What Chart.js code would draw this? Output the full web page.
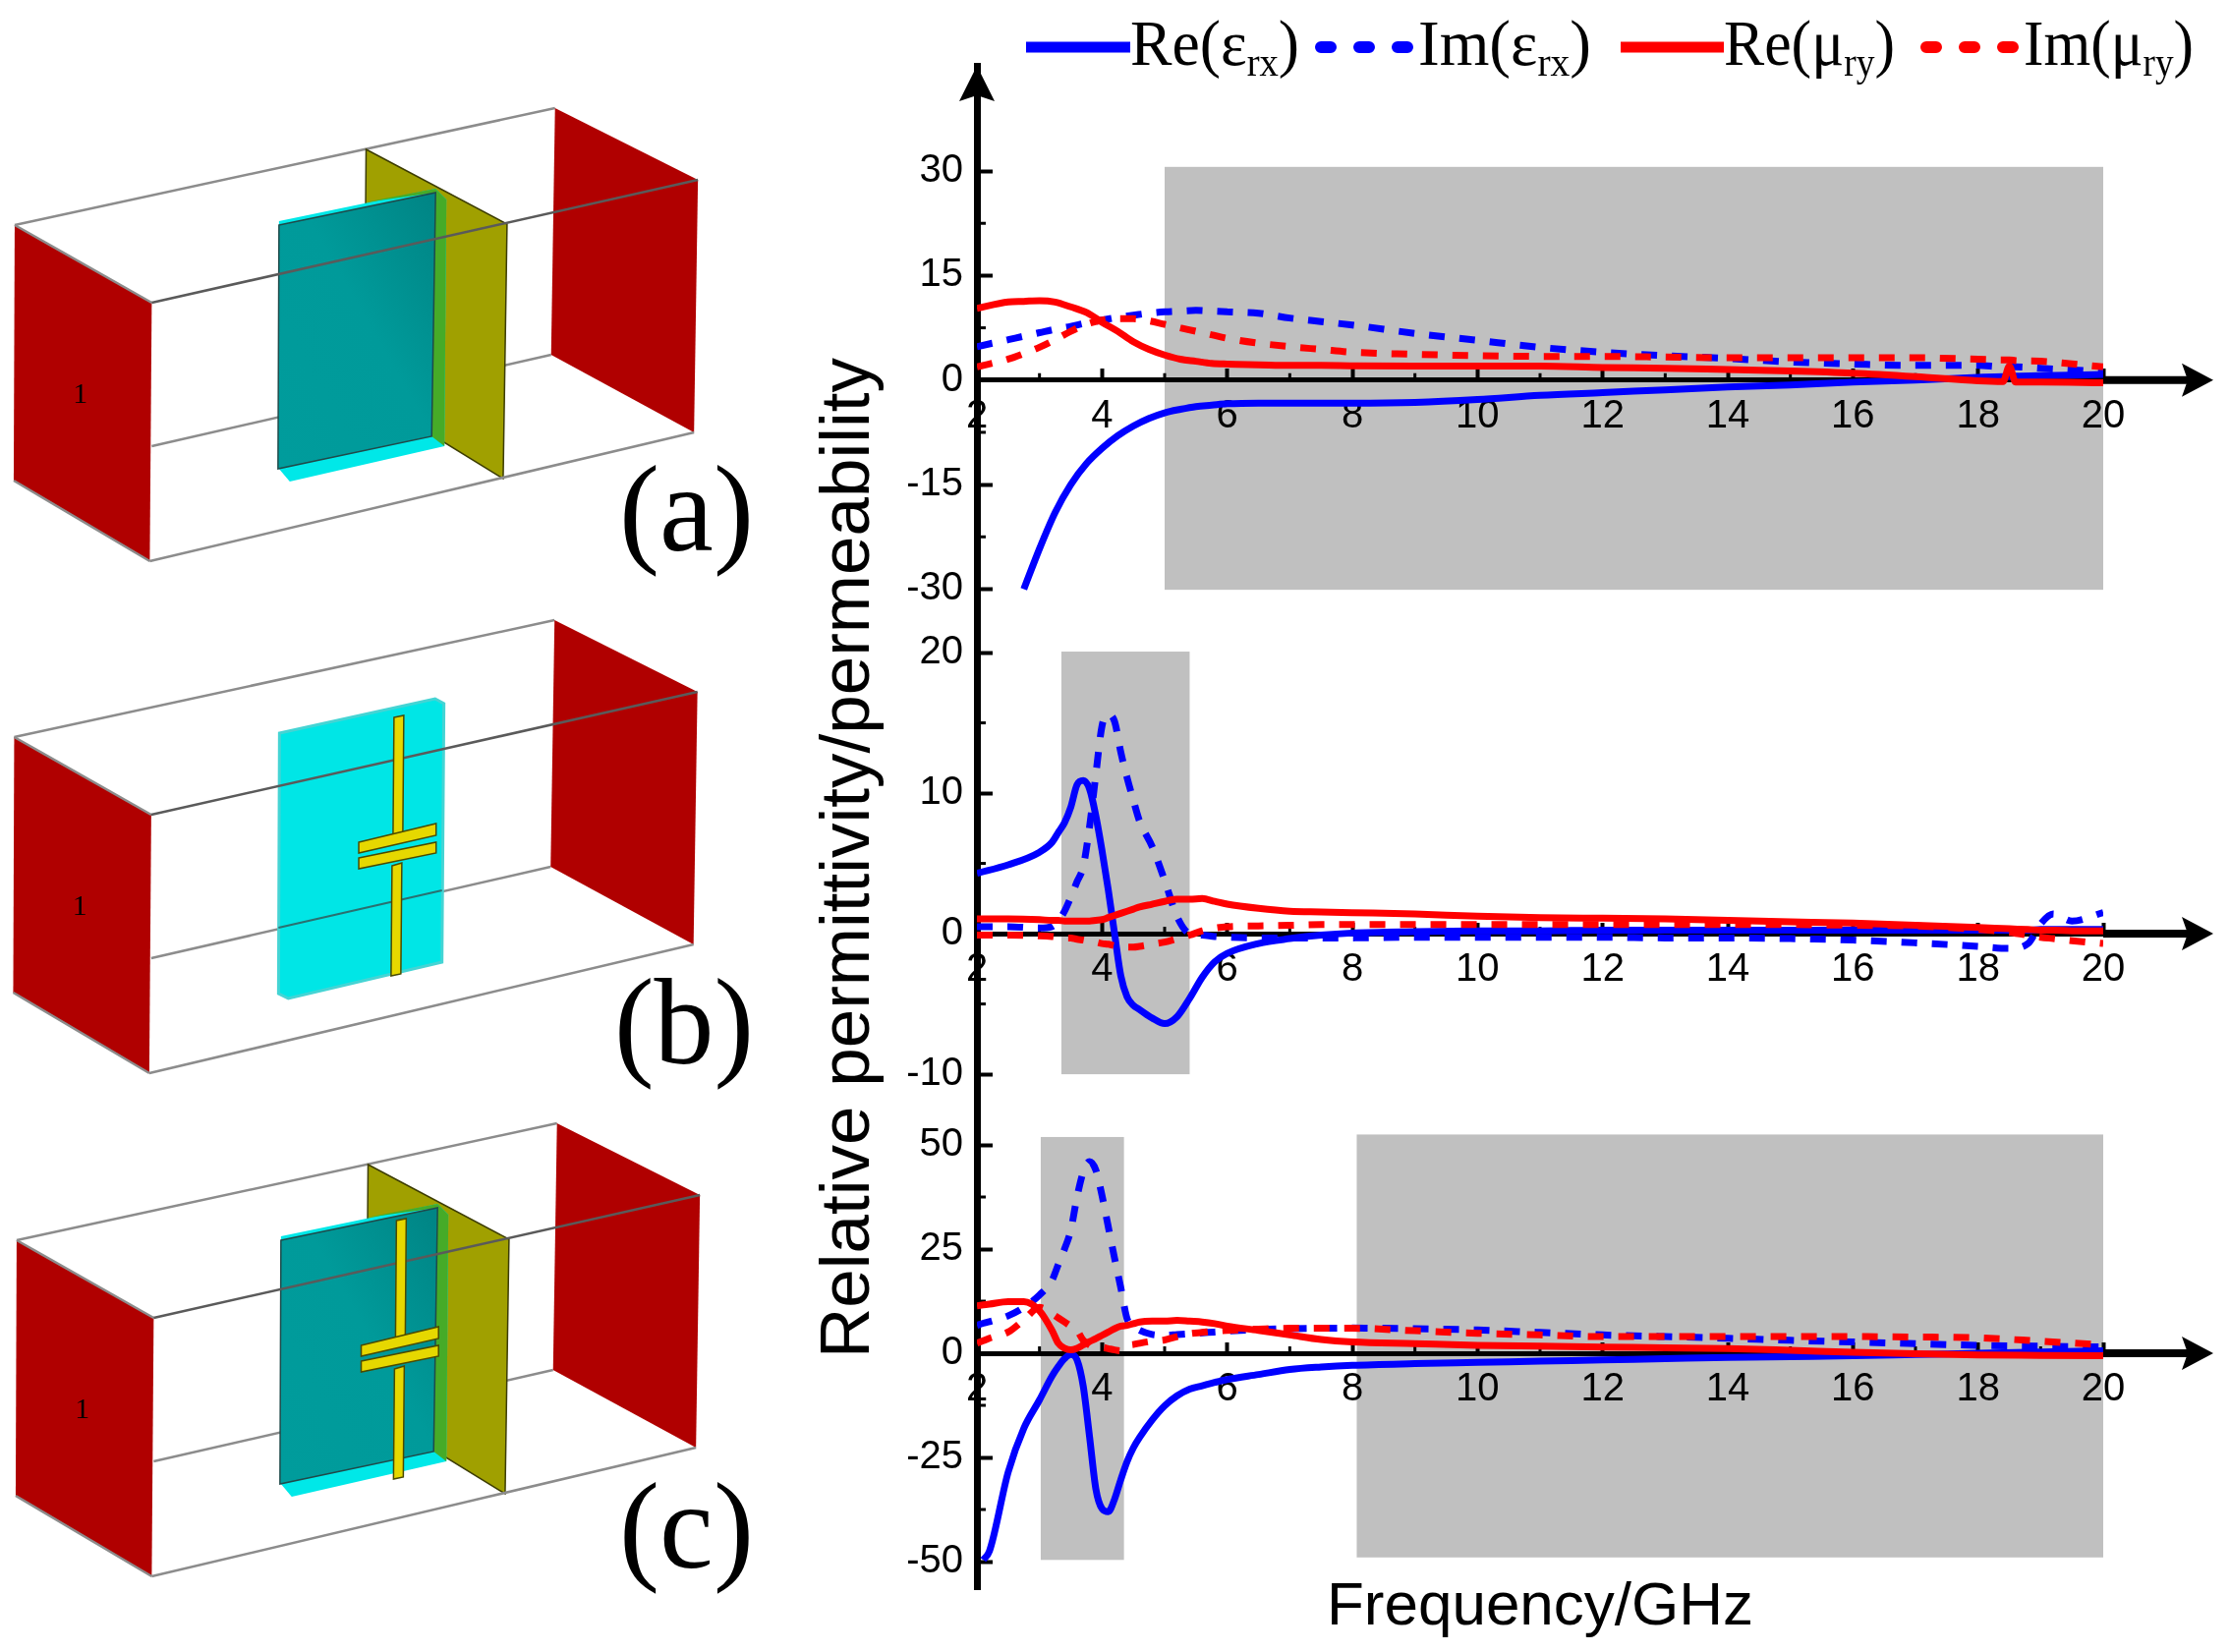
<!DOCTYPE html>
<html>
<head>
<meta charset="utf-8">
<title>Relative permittivity and permeability</title>
<script src="https://cdn.jsdelivr.net/npm/chart.js@4"></script>
<style>
  html, body { margin: 0; padding: 0; background: #fff; }
  #page { position: relative; width: 2269px; height: 1681px; overflow: hidden; filter: blur(0.6px); }
  #page svg, #page canvas { position: absolute; left: 0; top: 0; }
  .serif { font-family: "Liberation Serif", serif; fill: #000; }
</style>
</head>
<body>
<div id="page">
  <svg width="2269" height="1681" viewBox="0 0 2269 1681">
    <defs>
      <linearGradient id="teal" x1="1" y1="0" x2="0" y2="1">
        <stop offset="0" stop-color="#008484"/>
        <stop offset="0.45" stop-color="#009a9a"/>
        <stop offset="1" stop-color="#009c9c"/>
      </linearGradient>
      <g id="plates">
        <polygon points="15,229 155,308 153,571 14,489" fill="#b00000"/>
        <polygon points="567,110 713,183 709,440 563,361" fill="#b00000"/>
        <text x="82" y="410" class="serif" font-size="30" text-anchor="middle">1</text>
      </g>
      <g id="backWires" stroke="#8c8c8c" stroke-width="2.5" fill="none">
        <line x1="15" y1="229" x2="567" y2="110"/>
        <line x1="155" y1="454" x2="563" y2="361"/>
      </g>
      <g id="frontWires" stroke-width="2.5" fill="none">
        <line x1="15" y1="229" x2="155" y2="308" stroke="#8c8c8c"/>
        <line x1="155" y1="308" x2="713" y2="183" stroke="#5a5a5a"/>
        <line x1="153" y1="571" x2="709" y2="440" stroke="#8c8c8c"/>
        <line x1="14" y1="489" x2="153" y2="571" stroke="#8c8c8c"/>
      </g>
      <g id="cross" fill="#e6d800" stroke="#4a4a00" stroke-width="1.5">
        <polygon points="403,209 413,207 412,330 402,333"/>
        <polygon points="401,360 411,357 410,470 400,472"/>
        <polygon points="367,336 446,317 446,329 367,347"/>
        <polygon points="367,352 446,336 446,347 367,363"/>
      </g>
      <g id="wall">
        <polygon points="374,152 518,228 514,487 372,400" fill="#a0a000" stroke="#3c3c00" stroke-width="1.5"/>
        <polygon points="285,225 445,192 456,203 454,454 296,490 285,477" fill="#00e8e8"/>
        <polygon points="372,206 445,192 456,203 454,454 441,444 445,196" fill="#46ab28"/>
        <polygon points="285,229 445,196 441,444 284,477" fill="url(#teal)" stroke="#1f4a4a" stroke-width="1.5"/>
      </g>
      <g id="plain">
        <polygon points="286,225 445,190 454,195 452,458 295,495 285,490" fill="#00e6e6" stroke="#45d4d4" stroke-width="3"/>
      </g>
    </defs>

    <g transform="scale(0.996,1)">
      <g id="panelA">
        <use href="#backWires"/><use href="#wall"/><use href="#plates"/><use href="#frontWires"/>
      </g>
      <g id="panelB" transform="translate(-0.5,521)">
        <use href="#backWires"/><use href="#plain"/>
        <line x1="285" y1="423" x2="452" y2="385" stroke="#2a7070" stroke-width="2"/>
        <use href="#plates"/><use href="#frontWires"/><use href="#cross"/>
      </g>
      <g id="panelC" transform="translate(2,1033)">
        <use href="#backWires"/><use href="#wall"/><use href="#plates"/><use href="#frontWires"/><use href="#cross"/>
      </g>
    </g>

    <text x="630" y="560" class="serif" font-size="124" textLength="137" lengthAdjust="spacingAndGlyphs">(a)</text>
    <text x="625" y="1082" class="serif" font-size="124" textLength="142" lengthAdjust="spacingAndGlyphs">(b)</text>
    <text x="630" y="1595" class="serif" font-size="124" textLength="137" lengthAdjust="spacingAndGlyphs">(c)</text>

    <line x1="1044" y1="48" x2="1150" y2="48" stroke="#0000ff" stroke-width="11"/>
    <text x="1150" y="66" class="serif" font-size="66" textLength="172" lengthAdjust="spacingAndGlyphs">Re(ε<tspan dy="11" font-size="40">rx</tspan><tspan dy="-11">)</tspan></text>
    <line x1="1344" y1="48" x2="1436" y2="48" stroke="#0000ff" stroke-width="12" stroke-linecap="round" stroke-dasharray="10 29"/>
    <text x="1443" y="66" class="serif" font-size="66" textLength="176" lengthAdjust="spacingAndGlyphs">Im(ε<tspan dy="11" font-size="40">rx</tspan><tspan dy="-11">)</tspan></text>
    <line x1="1649" y1="48" x2="1754" y2="48" stroke="#ff0000" stroke-width="11"/>
    <text x="1754" y="66" class="serif" font-size="66" textLength="174" lengthAdjust="spacingAndGlyphs">Re(μ<tspan dy="11" font-size="40">ry</tspan><tspan dy="-11">)</tspan></text>
    <line x1="1960" y1="48" x2="2051" y2="48" stroke="#ff0000" stroke-width="12" stroke-linecap="round" stroke-dasharray="10 29"/>
    <text x="2059" y="66" class="serif" font-size="66" textLength="173" lengthAdjust="spacingAndGlyphs">Im(μ<tspan dy="11" font-size="40">ry</tspan><tspan dy="-11">)</tspan></text>
  </svg>
  <canvas id="chart1" width="2269" height="1681"></canvas>
  <canvas id="chart2" width="2269" height="1681"></canvas>
  <canvas id="chart3" width="2269" height="1681"></canvas>
</div>

<script>
// panel 1 (top)
const freq1 = [2, 2.5, 2.75, 3, 3.25, 3.5, 3.75, 4, 4.25, 4.5, 4.75, 5, 5.25, 5.5, 5.75, 6, 6.5, 7, 7.5, 8, 9, 10, 11, 12, 13, 14, 15, 16, 17, 18, 18.4, 18.5, 18.6, 19, 20];
const reEps1 = [null, null, -30, -24.2, -19, -15, -12, -9.8, -8, -6.6, -5.5, -4.7, -4.2, -3.8, -3.6, -3.4, -3.3, -3.3, -3.3, -3.3, -3.2, -2.8, -2.2, -1.8, -1.4, -1, -0.7, -0.3, 0, 0.4, 0.5, 0.5, 0.55, 0.65, 0.8];
const imEps1 = [4.8, 5.8, 6.3, 6.8, 7.3, 7.7, 8.2, 8.6, 9, 9.3, 9.6, 9.8, 9.9, 10, 9.9, 9.8, 9.6, 8.9, 8.4, 7.9, 6.7, 5.7, 4.7, 4, 3.5, 3.1, 2.6, 2.3, 2.1, 2.1, 1.9, 1.9, 1.9, 1.7, 1.2];
const reMu1 = [10.3, 11.2, 11.3, 11.4, 11.2, 10.5, 9.7, 8.3, 7, 5.5, 4.4, 3.6, 3, 2.7, 2.4, 2.3, 2.2, 2.1, 2.1, 2.05, 2, 2, 2, 1.8, 1.7, 1.5, 1.3, 1, 0.5, -0.1, -0.2, 2, -0.3, -0.3, -0.4];
const imMu1 = [1.9, 3, 3.8, 4.7, 5.8, 7, 8, 8.6, 8.8, 8.8, 8.5, 8, 7.5, 7, 6.5, 6, 5.3, 4.8, 4.4, 4, 3.7, 3.5, 3.4, 3.4, 3.3, 3.2, 3.2, 3.2, 3.2, 3, 2.9, 2.9, 2.8, 2.7, 1.9];

// panel 2 (middle)
const freq2 = [2, 2.5, 3, 3.2, 3.3, 3.4, 3.5, 3.6, 3.7, 3.8, 3.9, 4, 4.1, 4.2, 4.3, 4.4, 4.5, 4.6, 4.8, 5, 5.2, 5.4, 5.6, 5.8, 6, 6.5, 7, 7.5, 8, 9, 10, 11, 12, 13, 14, 15, 16, 17, 18, 18.5, 18.8, 19, 19.2, 19.5, 20];
const reEps2 = [4.3, 4.9, 5.8, 6.5, 7.2, 7.9, 9, 10.6, 10.9, 10.3, 8.4, 5.9, 3.1, 0, -3, -4.5, -5.1, -5.4, -6, -6.4, -5.9, -4.6, -3.1, -2, -1.4, -0.7, -0.35, -0.1, 0.05, 0.15, 0.2, 0.2, 0.25, 0.25, 0.25, 0.25, 0.25, 0.25, 0.25, 0.25, 0.25, 0.3, 0.3, 0.3, 0.3];
const imEps2 = [0.5, 0.5, 0.4, 0.5, 0.9, 1.6, 2.6, 3.7, 4.8, 7.6, 11.3, 14.8, 15.6, 15.1, 12.9, 11.1, 9.5, 8, 6.2, 3.8, 1.2, 0, -0.1, -0.2, -0.25, -0.3, -0.3, -0.3, -0.3, -0.25, -0.25, -0.25, -0.25, -0.3, -0.3, -0.35, -0.45, -0.65, -0.9, -1.05, -0.7, 0.7, 1.4, 0.9, 1.5];
const reMu2 = [1.05, 1.05, 1, 0.95, 0.95, 0.9, 0.9, 0.9, 0.9, 0.9, 0.95, 1, 1.15, 1.3, 1.45, 1.6, 1.75, 1.9, 2.1, 2.3, 2.45, 2.45, 2.5, 2.3, 2.1, 1.8, 1.6, 1.55, 1.5, 1.4, 1.25, 1.15, 1.1, 1.05, 0.95, 0.85, 0.75, 0.6, 0.45, 0.35, 0.3, 0.25, 0.25, 0.2, 0.2];
const imMu2 = [-0.1, -0.1, -0.15, -0.2, -0.25, -0.3, -0.3, -0.4, -0.45, -0.55, -0.6, -0.7, -0.75, -0.85, -0.9, -0.95, -0.95, -0.9, -0.75, -0.6, -0.35, -0.1, 0.2, 0.4, 0.5, 0.55, 0.6, 0.65, 0.65, 0.65, 0.65, 0.65, 0.65, 0.65, 0.65, 0.65, 0.6, 0.55, 0.3, 0.1, -0.1, -0.25, -0.35, -0.5, -0.7];

// panel 3 (bottom)
const freq3 = [2, 2.1, 2.2, 2.5, 2.75, 3, 3.2, 3.3, 3.4, 3.5, 3.6, 3.7, 3.8, 3.9, 4, 4.1, 4.2, 4.3, 4.4, 4.5, 4.6, 4.8, 5, 5.2, 5.4, 5.6, 5.8, 6, 6.5, 7, 7.5, 8, 9, 10, 11, 12, 13, 14, 15, 16, 17, 18, 19, 20];
const reEps3 = [null, -49.6, -47.5, -28.5, -18, -11.2, -5.5, -3.2, -1.3, -0.3, -1.6, -8, -20, -32.5, -37.3, -38, -35, -30.3, -26, -22.7, -20.2, -16, -12.6, -10.2, -8.6, -7.8, -7, -6.3, -5.1, -3.9, -3.3, -2.9, -2.5, -2.2, -1.9, -1.6, -1.3, -1, -0.8, -0.6, -0.3, 0, 0.3, 0.6];
const imEps3 = [6.7, 7.2, 7.6, 9, 11, 14, 17.5, 21.3, 25, 29.5, 37.5, 43.5, 46, 44, 37.8, 30.3, 22.8, 15.7, 8.3, 6.5, 5.5, 4.5, 4.3, 4.5, 4.7, 4.9, 5.1, 5.3, 5.7, 5.9, 6, 6.05, 5.9, 5.6, 5, 4.4, 4, 3.6, 3.1, 2.7, 2.3, 1.9, 1.7, 1.5];
const reMu3 = [11.4, 11.6, 11.8, 12.4, 12.4, 10.2, 5.5, 2.4, 1.2, 0.8, 1.2, 2, 2.8, 3.5, 4.3, 5.1, 5.9, 6.5, 6.7, 7.1, 7.5, 7.7, 7.7, 7.9, 7.7, 7.5, 7.1, 6.5, 5.5, 4.4, 3.3, 2.7, 2.3, 1.9, 1.7, 1.5, 1.3, 1.1, 0.7, 0.25, -0.1, -0.4, -0.5, -0.6];
const imMu3 = [2.4, 3, 3.6, 5.1, 8, 11, 9.5, 8.5, 7.5, 6.5, 5.5, 3.1, 2, 1.4, 1.4, 1.1, 0.8, 0.6, 1.8, 2.1, 2.4, 2.9, 3.2, 4, 4.7, 5, 5.3, 5.5, 5.8, 6, 6, 6, 5.4, 4.8, 4.4, 4, 4, 4, 4, 4, 3.9, 3.7, 2.9, 2];

// y ticks, labelled and unlabelled
const yMajor1 = [-30, -15, 0, 15, 30];
const yMinor1 = [-22.5, -7.5, 7.5, 22.5];
const yMajor2 = [-10, 0, 10, 20];
const yMinor2 = [-5, 5, 15];
const yMajor3 = [-50, -25, 0, 25, 50];
const yMinor3 = [-37.5, -12.5, 12.5, 37.5];

// grey regions: [freq from, freq to, value from, value to]
const bands1 = [[5, 20, -30.1, 30.6]];
const bands2 = [[3.35, 5.4, -10, 20.07]];
const bands3 = [[3.02, 4.35, -49.6, 51.9], [8.07, 20, -49, 52.5]];

const BLUE = '#0000ff';
const RED = '#ff0000';
const SANS = '"Liberation Sans", Arial, sans-serif';

function pts(freq, vals) {
  return freq.map((f, i) => ({ x: f, y: vals[i] }));
}

function series(label, freq, vals, color, dashed, order) {
  return {
    label: label,
    data: pts(freq, vals),
    borderColor: color,
    borderWidth: 7,
    borderDash: dashed ? [16, 15] : [],
    pointRadius: 0,
    cubicInterpolationMode: 'monotone',
    order: order,
  };
}

// grey bands go under the axes; arrows and the short minor ticks go on top
const decorations = {
  id: 'decorations',
  beforeDraw(chart, args, opts) {
    const { x, y } = chart.scales;
    const ctx = chart.ctx;
    ctx.save();
    ctx.fillStyle = '#c0c0c0';
    opts.bands.forEach((b) => {
      const x0 = x.getPixelForValue(b[0]);
      const x1 = x.getPixelForValue(b[1]);
      const y0 = y.getPixelForValue(b[3]);
      const y1 = y.getPixelForValue(b[2]);
      ctx.fillRect(x0, y0, x1 - x0, y1 - y0);
    });
    ctx.restore();
  },
  beforeDatasetsDraw(chart, args, opts) {
    const { x, y } = chart.scales;
    const ctx = chart.ctx;
    const y0 = y.getPixelForValue(0);
    ctx.save();
    ctx.fillStyle = '#000';
    x.ticks.forEach((t) => {
      if (t.value % 2 !== 0) ctx.fillRect(x.getPixelForValue(t.value) - 1.5, y0 - 7, 3, 7);
    });
    opts.yMinor.forEach((v) => {
      ctx.fillRect(chart.chartArea.left, y.getPixelForValue(v) - 1.5, 9, 3);
    });
    ctx.restore();
  },
  afterDraw(chart, args, opts) {
    const { x, y } = chart.scales;
    const ctx = chart.ctx;
    const y0 = y.getPixelForValue(0);
    const xEnd = x.getPixelForValue(20);
    ctx.save();
    ctx.fillStyle = '#000';
    ctx.fillRect(xEnd, y0 - 4, 90, 8);
    ctx.beginPath();
    ctx.moveTo(xEnd + 112, y0);
    ctx.lineTo(xEnd + 80, y0 - 17);
    ctx.lineTo(xEnd + 86, y0);
    ctx.lineTo(xEnd + 80, y0 + 17);
    ctx.closePath();
    ctx.fill();
    if (opts.yArrow) {
      const left = chart.chartArea.left;
      const top = chart.chartArea.top;
      ctx.beginPath();
      ctx.moveTo(left, top);
      ctx.lineTo(left - 18, top + 36);
      ctx.lineTo(left, top + 30);
      ctx.lineTo(left + 18, top + 36);
      ctx.closePath();
      ctx.fill();
    }
    ctx.restore();
  },
};

function makePanel(id, cfg) {
  const isMajor = (v) => cfg.yMajor.includes(v);
  const xScale = {
    type: 'linear',
    min: 2,
    max: 20,
    position: { y: 0 },
    afterBuildTicks: (scale) => {
      scale.ticks = [];
      for (let v = 2; v <= 20; v++) scale.ticks.push({ value: v });
    },
    ticks: {
      autoSkip: false,
      maxRotation: 0,
      padding: 27,
      color: '#000',
      font: { family: SANS, size: 40 },
      callback: (v) => (v % 2 === 0 ? String(v) : ''),
    },
    grid: {
      drawOnChartArea: false,
      tickLength: -14,
      tickWidth: 4,
      tickColor: (c) => (c.tick && c.tick.value % 2 === 0 ? '#000' : 'rgba(0,0,0,0)'),
    },
    border: { display: true, color: '#000', width: 5 },
  };
  if (cfg.xTitle) {
    xScale.title = {
      display: true,
      text: cfg.xTitle,
      color: '#000',
      font: { family: SANS, size: 62 },
      padding: 0,
    };
    xScale.afterFit = (scale) => { scale.height = 296; };
  }
  const yScale = {
    type: 'linear',
    min: cfg.yRange[0],
    max: cfg.yRange[1],
    afterBuildTicks: (scale) => {
      scale.ticks = cfg.yMajor.map((v) => ({ value: v }));
    },
    afterFit: (scale) => { scale.width = 994; },
    ticks: {
      autoSkip: false,
      padding: 30,
      color: '#000',
      font: { family: SANS, size: 40 },
      callback: (v) => String(v),
    },
    grid: {
      drawOnChartArea: false,
      tickLength: -16,
      tickColor: '#000',
      tickWidth: 4,
    },
    border: { display: true, color: '#000', width: 7 },
  };
  if (cfg.yTitle) {
    yScale.title = {
      display: true,
      text: cfg.yTitle,
      color: '#000',
      font: { family: SANS, size: 71 },
      padding: { top: 822, bottom: 0 },
    };
  }
  return new Chart(document.getElementById(id), {
    type: 'line',
    data: {
      datasets: [
        series('Re(εrx)', cfg.freq, cfg.reEps, BLUE, false, 4),
        series('Im(εrx)', cfg.freq, cfg.imEps, BLUE, true, 3),
        series('Re(μry)', cfg.freq, cfg.reMu, RED, false, 2),
        series('Im(μry)', cfg.freq, cfg.imMu, RED, true, 1),
      ],
    },
    options: {
      responsive: false,
      animation: false,
      layout: { padding: { left: 0, right: 129, top: cfg.top, bottom: 1681 - cfg.bottom } },
      scales: { x: xScale, y: yScale },
      plugins: {
        legend: { display: false },
        tooltip: { enabled: false },
        decorations: { bands: cfg.bands, yMinor: cfg.yMinor, yArrow: !!cfg.yArrow },
      },
    },
    plugins: [decorations],
  });
}

makePanel('chart1', {
  freq: freq1, reEps: reEps1, imEps: imEps1, reMu: reMu1, imMu: imMu1,
  yMajor: yMajor1, yMinor: yMinor1, yRange: [-32.9, 45.1], bands: bands1,
  top: 67, bottom: 620, yArrow: true,
});
makePanel('chart2', {
  freq: freq2, reEps: reEps2, imEps: imEps2, reMu: reMu2, imMu: imMu2,
  yMajor: yMajor2, yMinor: yMinor2, yRange: [-12.3, 23.08], bands: bands2,
  top: 620, bottom: 1126, yTitle: 'Relative permittivity/permeability',
});
makePanel('chart3', {
  freq: freq3, reEps: reEps3, imEps: imEps3, reMu: reMu3, imMu: imMu3,
  yMajor: yMajor3, yMinor: yMinor3, yRange: [-56.6, 59.2], bands: bands3,
  top: 1126, bottom: 1617, xTitle: 'Frequency/GHz',
});
</script>
</body>
</html>
